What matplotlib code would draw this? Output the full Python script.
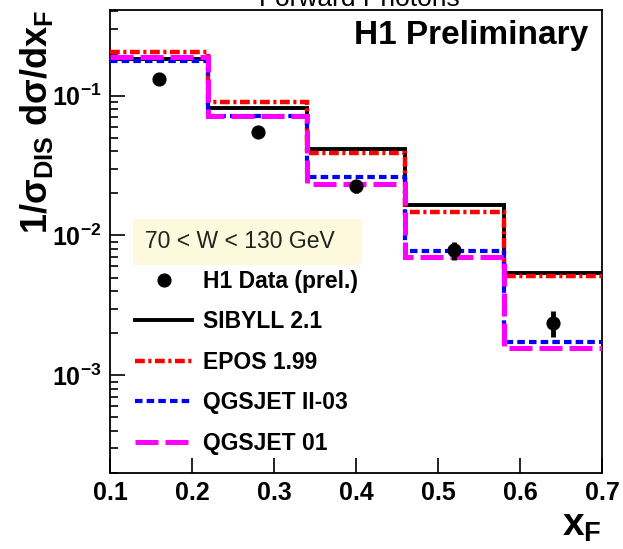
import math
import matplotlib
matplotlib.use("Agg")
import matplotlib.pyplot as plt
from matplotlib.patches import Rectangle
from matplotlib import ticker

plt.rcParams['font.family'] = ['Liberation Sans', 'DejaVu Sans']
plt.rcParams['mathtext.fontset'] = 'custom'
plt.rcParams['mathtext.rm'] = 'Liberation Sans'
plt.rcParams['mathtext.bf'] = 'Liberation Sans:bold'
plt.rcParams['mathtext.it'] = 'Liberation Sans:italic'

# Bin edges in x_F and model predictions per bin
bin_edges = [0.1, 0.22, 0.34, 0.46, 0.58, 0.7]
sibyll = [0.182, 0.082, 0.0415, 0.0165, 0.00542]
epos = [0.206, 0.0906, 0.0392, 0.0147, 0.00512]
qgsjet2 = [0.178, 0.072, 0.0260, 0.00769, 0.00173]
qgsjet01 = [0.188, 0.071, 0.0235, 0.00697, 0.00156]

# H1 preliminary measurement
data_x = [0.16, 0.28, 0.40, 0.52, 0.64]
data_y = [0.132, 0.0547, 0.0225, 0.00785, 0.00238]
data_err = [0.003, 0.0015, 0.0025, 0.0012, 0.0005]

series_labels = ["H1 Data (prel.)", "SIBYLL 2.1", "EPOS 1.99",
                 "QGSJET II-03", "QGSJET 01"]
x_ticks = [0.1, 0.2, 0.3, 0.4, 0.5, 0.6, 0.7]

fig = plt.figure(figsize=(6.23, 5.49), dpi=100)
ax = fig.add_axes([110 / 623, 76 / 549, 492 / 623, 463 / 549])

h_sib = ax.stairs(sibyll, bin_edges, baseline=None, color='black',
                  linewidth=2.8, zorder=2)
h_epos = ax.stairs(epos, bin_edges, baseline=None, color='#ff0000',
                   linewidth=3.2, linestyle=(0, (2.2, 0.8, 0.7, 0.8)), zorder=3)
h_q2 = ax.stairs(qgsjet2, bin_edges, baseline=None, color='#0000ff',
                 linewidth=3.0, linestyle=(0, (1.8, 1.0)), zorder=4)
h_q01 = ax.stairs(qgsjet01, bin_edges, baseline=None, color='#ff00ff',
                  linewidth=3.6, linestyle=(0, (4.6, 1.4)), zorder=5)

eb = ax.errorbar(data_x, data_y, yerr=data_err, fmt='o', color='black',
                 markersize=9.2, elinewidth=3.5, capsize=0, zorder=6)

ax.set_yscale('log')
ax.set_xlim(0.1, 0.7)
ax.set_ylim(2e-4, 0.41)

ax.set_xticks(x_ticks)
ax.set_xticklabels([f"{v:.1f}" for v in x_ticks], fontweight='bold')
ax.xaxis.set_minor_locator(ticker.NullLocator())
ax.yaxis.set_major_formatter(ticker.FuncFormatter(
    lambda v, p: r'$\mathbf{10^{%d}}$' % round(math.log10(v))))
ax.yaxis.set_minor_locator(ticker.LogLocator(base=10, subs=range(2, 10)))
ax.yaxis.set_minor_formatter(ticker.NullFormatter())

ax.tick_params(axis='both', which='both', direction='in', top=False, right=False,
               labelsize=18, width=1.2)
ax.tick_params(axis='both', which='major', length=11, pad=6)
ax.tick_params(axis='y', which='minor', length=6)
for s in ax.spines.values():
    s.set_linewidth(1.3)

ax.set_ylabel(r'$\mathbf{1/σ_{DIS}\ dσ/dx_{F}}$', fontsize=26, loc='top',
              labelpad=-2)
ax.set_xlabel(r'$\mathbf{x_{F}}$', fontsize=28, loc='right', labelpad=2)

ax.text(0.9715, (473 - 44) / 463, "H1 Preliminary", transform=ax.transAxes,
        ha='right', va='baseline', fontsize=24, fontweight='bold')

fig.text(359 / 623, 1 - 6 / 549, "Forward Photons", ha='center',
         va='baseline', fontsize=19)

# Header box for the legend
ax.add_patch(Rectangle(((133 - 110) / 492, (473 - 265) / 463), 229 / 492, 46 / 463,
                       transform=ax.transAxes, facecolor='#fcf9dc',
                       edgecolor='none', zorder=7))
ax.text((145 - 110) / 492, (473 - 242) / 463, "70 < W < 130 GeV",
        transform=ax.transAxes, ha='left', va='center', fontsize=16.5,
        color='#222222', zorder=8)

leg = ax.legend([eb[0], h_sib, h_epos, h_q2, h_q01], series_labels,
                loc='upper left', bbox_to_anchor=((135 - 110) / 492, (473 - 270) / 463),
                frameon=False, borderpad=0, borderaxespad=0,
                handlelength=2.5, handletextpad=0.45, labelspacing=0.76,
                prop={'weight': 'bold', 'size': 16.5})

fig.savefig("out.png", dpi=100)
